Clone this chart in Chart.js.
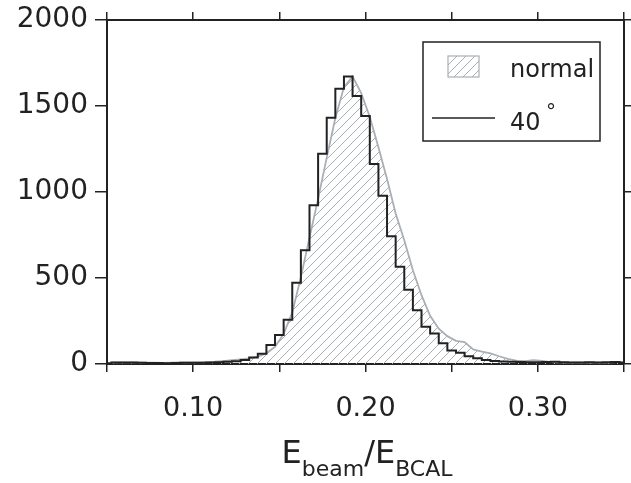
<!DOCTYPE html>
<html>
<head>
<meta charset="utf-8">
<script src="https://cdn.jsdelivr.net/npm/chart.js@4.4.1/dist/chart.umd.min.js"></script>
<style>
  html, body { margin: 0; padding: 0; background: #fff; }
  #wrap { width: 631px; height: 483px; position: relative; }
</style>
</head>
<body>
<div id="wrap"><canvas id="histChart" width="631" height="483"></canvas></div>
<script>
// bin centres of the 40 degree histogram (width 0.005)
const binCenters = [0.050, 0.055, 0.060, 0.065, 0.070, 0.075, 0.080, 0.085, 0.090, 0.095,
                    0.100, 0.105, 0.110, 0.115, 0.120, 0.125, 0.130, 0.135, 0.140, 0.145,
                    0.150, 0.155, 0.160, 0.165, 0.170, 0.175, 0.180, 0.185, 0.190, 0.195,
                    0.200, 0.205, 0.210, 0.215, 0.220, 0.225, 0.230, 0.235, 0.240, 0.245,
                    0.250, 0.255, 0.260, 0.265, 0.270, 0.275, 0.280, 0.285, 0.290, 0.295,
                    0.300, 0.305, 0.310, 0.315, 0.320, 0.325, 0.330, 0.335, 0.340, 0.345,
                    0.350];
const counts40 = [5, 8, 9, 8, 7, 6, 6, 5, 6, 7,
                  7, 7, 8, 10, 13, 16, 23, 38, 60, 110,
                  168, 257, 472, 662, 923, 1222, 1432, 1601, 1672, 1558,
                  1442, 1163, 978, 743, 565, 432, 313, 217, 178, 120,
                  79, 66, 45, 33, 23, 17, 14, 13, 11, 10,
                  10, 11, 13, 10, 9, 9, 10, 9, 10, 11,
                  9];

// "normal" incidence curve
const normalX = [0.0525, 0.0575, 0.0625, 0.0675, 0.0725, 0.0775, 0.0825, 0.0875, 0.0925, 0.0975,
                 0.1025, 0.1075, 0.1125, 0.1175, 0.1225, 0.1275, 0.1325, 0.1375, 0.1425, 0.1475,
                 0.1525, 0.1575, 0.1625, 0.1675, 0.1725, 0.1775, 0.1825, 0.1875, 0.1925, 0.1975,
                 0.2025, 0.2075, 0.2125, 0.2175, 0.2225, 0.2275, 0.2325, 0.2375, 0.2425, 0.2475,
                 0.2525, 0.2575, 0.2625, 0.2675, 0.2725, 0.2775, 0.2825, 0.2875, 0.2925, 0.2975,
                 0.3025, 0.3075, 0.3125, 0.3175, 0.3225, 0.3275, 0.3325, 0.3375, 0.3425, 0.3475];
const countsNormal = [8, 10, 10, 9, 8, 8, 7, 8, 9, 9,
                      10, 11, 13, 17, 22, 27, 33, 43, 62, 100,
                      175, 300, 505, 735, 960, 1200, 1430, 1610, 1672, 1575,
                      1436, 1260, 1075, 875, 720, 545, 400, 280, 205, 162,
                      135, 128, 85, 72, 62, 45, 30, 20, 17, 22,
                      18, 11, 9, 8, 9, 8, 9, 8, 9, 12];

const xLabels = [0.10, 0.20, 0.30];
const seriesNames = ['normal', '40 °'];

const ink = '#222';
const greyLine = '#a9afb5';

// diagonal hatch for the "normal" area
function makeHatch() {
    const c = document.createElement('canvas');
    c.width = 9; c.height = 9;
    const g = c.getContext('2d');
    g.strokeStyle = '#a9afb5';
    g.lineWidth = 1;
    g.beginPath();
    g.moveTo(-1, 10); g.lineTo(10, -1);
    g.moveTo(-1, 1); g.lineTo(1, -1);
    g.moveTo(8, 10); g.lineTo(10, 8);
    g.stroke();
    return g.createPattern(c, 'repeat');
}
const hatch = makeHatch();

function fixSize(prop, v) {
    return function (s) { s[prop] = v; };
}

function isLabelTick(v) {
    return xLabels.some(l => Math.abs(l - v) < 1e-6);
}

// legend box and axis title
const extras = {
    id: 'extras',
    afterDraw(chart) {
        const ctx = chart.ctx;
        ctx.save();
        // legend frame
        ctx.strokeStyle = ink;
        ctx.lineWidth = 1.5;
        ctx.strokeRect(423, 42, 177, 99);
        // hatch swatch
        ctx.fillStyle = hatch;
        ctx.fillRect(448, 56, 31, 21);
        ctx.strokeStyle = greyLine;
        ctx.lineWidth = 1.2;
        ctx.strokeRect(448, 56, 31, 21);
        // line sample
        ctx.strokeStyle = ink;
        ctx.lineWidth = 1.5;
        ctx.beginPath();
        ctx.moveTo(432, 118); ctx.lineTo(495, 118);
        ctx.stroke();

        ctx.fillStyle = ink;
        ctx.textBaseline = 'alphabetic';
        ctx.textAlign = 'left';
        ctx.font = '24px "DejaVu Sans"';
        ctx.fillText(seriesNames[0], 510, 77);
        const deg = seriesNames[1].split(' ');
        ctx.fillText(deg[0], 510, 130);
        ctx.font = '20px "DejaVu Sans"';
        ctx.fillText(deg[1], 546, 118);

        // x title: E_beam / E_BCAL
        const parts = [
            ['E', '32px "DejaVu Sans"', 463],
            ['beam', '22px "DejaVu Sans"', 476],
            ['/', '32px "DejaVu Sans"', 463],
            ['E', '32px "DejaVu Sans"', 463],
            ['BCAL', '22px "DejaVu Sans"', 476]
        ];
        let total = 0;
        parts.forEach(p => { ctx.font = p[1]; total += ctx.measureText(p[0]).width; });
        let x = 367 - total / 2;
        parts.forEach(p => {
            ctx.font = p[1];
            ctx.fillText(p[0], x, p[2]);
            x += ctx.measureText(p[0]).width;
        });
        ctx.restore();
    }
};

const ctx = document.getElementById('histChart').getContext('2d');
new Chart(ctx, {
    type: 'line',
    data: {
        datasets: [
            {
                label: seriesNames[1],
                data: binCenters.map((x, i) => ({ x: x, y: counts40[i] })),
                borderColor: ink,
                borderWidth: 2,
                stepped: 'middle',
                pointRadius: 0,
                fill: false
            },
            {
                label: seriesNames[0],
                data: normalX.map((x, i) => ({ x: x, y: countsNormal[i] })),
                borderColor: greyLine,
                borderWidth: 1.8,
                backgroundColor: hatch,
                tension: 0,
                pointRadius: 0,
                fill: 'origin'
            }
        ]
    },
    options: {
        responsive: false,
        animation: false,
        layout: { padding: 0 },
        plugins: { legend: { display: false }, tooltip: { enabled: false } },
        scales: {
            x: {
                type: 'linear', position: 'bottom', min: 0.05, max: 0.35,
                afterFit: fixSize('height', 119),
                grid: { drawOnChartArea: false, tickLength: 8, color: ink, lineWidth: 1.5 },
                border: { color: ink, width: 2 },
                ticks: {
                    stepSize: 0.05, color: ink, padding: 3, maxRotation: 0, autoSkip: false,
                    font: { family: 'DejaVu Sans', size: 27, lineHeight: '68px' },
                    callback: v => isLabelTick(v) ? v.toFixed(2) : ''
                }
            },
            x2: {
                type: 'linear', position: 'top', min: 0.05, max: 0.35,
                afterFit: fixSize('height', 20),
                grid: { drawOnChartArea: false, tickLength: 8, color: ink, lineWidth: 1.5 },
                border: { color: ink, width: 2 },
                ticks: { stepSize: 0.05, autoSkip: false, padding: 0, callback: () => '' }
            },
            y: {
                position: 'left', min: 0, max: 2000,
                afterFit: fixSize('width', 107),
                grid: { drawOnChartArea: false, tickLength: 12, color: ink, lineWidth: 1.5 },
                border: { color: ink, width: 2 },
                ticks: {
                    stepSize: 500, color: ink, padding: 7,
                    font: { family: 'DejaVu Sans', size: 28, lineHeight: '20px' },
                    callback: v => String(v)
                }
            },
            y2: {
                position: 'right', min: 0, max: 2000,
                afterFit: fixSize('width', 7),
                grid: { drawOnChartArea: false, tickLength: 7, color: ink, lineWidth: 1.5 },
                border: { color: ink, width: 2 },
                ticks: { stepSize: 500, padding: 0, callback: () => '' }
            }
        }
    },
    plugins: [extras]
});
</script>
</body>
</html>
